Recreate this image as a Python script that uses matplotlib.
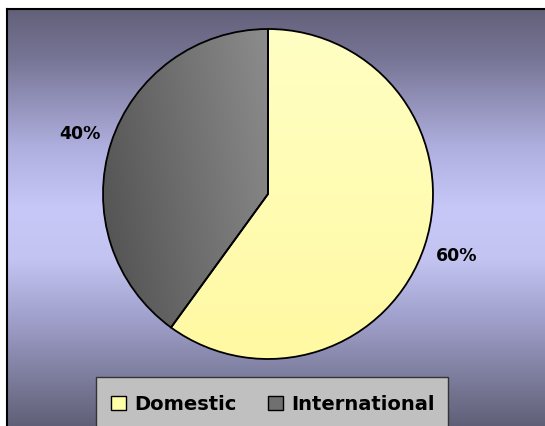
import matplotlib.pyplot as plt
import numpy as np
from matplotlib.colors import LinearSegmentedColormap
from matplotlib.patches import Rectangle

labels = ["Domestic", "International"]
shares = [60, 40]

W, H = 545, 427
fig = plt.figure(figsize=(W / 100, H / 100), dpi=100)
fig.patch.set_facecolor("white")

# background panel with vertical gradient (dark - lavender - dark)
bg = fig.add_axes([7 / W, -0.05, 1.0, 1 - 10 / H + 0.05])
bg_cmap = LinearSegmentedColormap.from_list(
    "bg",
    [(0.0, "#626079"), (0.114, "#777595"), (0.32, "#b0b0e0"), (0.457, "#c8c8f8"),
     (0.571, "#c4c4f2"), (0.708, "#a0a0cc"), (0.845, "#7c7c9c"), (0.952, "#606078"),
     (1.0, "#5c5c74")],
)
grad = np.linspace(0, 1, 256).reshape(-1, 1)
bg.imshow(grad, aspect="auto", cmap=bg_cmap, extent=[0, 1, 0, 1], origin="upper")
bg.set_xticks([])
bg.set_yticks([])
for s in bg.spines.values():
    s.set_linewidth(1.5)
    s.set_color("black")

# pie axes
cx, cy, r = 268, 195, 165
ax = fig.add_axes([(cx - r) / W, (H - cy - r) / H, 2 * r / W, 2 * r / H])
ax.axis("off")

wedges, texts, autotexts = ax.pie(
    shares, startangle=90, counterclock=False, radius=1,
    colors=["#ffffc0", "#707070"], autopct="%1.0f%%", pctdistance=1.2,
    wedgeprops=dict(edgecolor="black", linewidth=1.3),
    textprops=dict(fontsize=12.5, fontweight="bold", color="black"),
)
ax.set_aspect("auto")

# gradient fills clipped to wedges
yy, xx = np.mgrid[0:1:200j, 0:1:200j]
dom_cmap = LinearSegmentedColormap.from_list("dom", ["#ffffc4", "#fff9a2"])
dom_img = ax.imshow(yy, cmap=dom_cmap, extent=[-1, 1, -1, 1], origin="upper",
                    aspect="auto", zorder=1)
dom_img.set_clip_path(wedges[0])
int_cmap = LinearSegmentedColormap.from_list("int", ["#4e4e4e", "#8c8c8c"])
int_img = ax.imshow(xx + 0.35 * yy, cmap=int_cmap, extent=[-1, 0, -1, 1],
                    origin="lower", aspect="auto", zorder=1)
int_img.set_clip_path(wedges[1])
for w in wedges:
    w.set_zorder(2)
    w.set_facecolor("none")
ax.set_xlim(-1, 1)
ax.set_ylim(-1, 1)

# legend box (runs off the bottom edge)
fig.patches.append(Rectangle((96 / W, -0.05), (448 - 96) / W, (H - 378) / H + 0.05,
                             transform=fig.transFigure, facecolor="#c0c0c0",
                             edgecolor="#333333", linewidth=1.0))
handles = [Rectangle((0, 0), 1, 1, facecolor="#ffffa8", edgecolor="black"),
           Rectangle((0, 0), 1, 1, facecolor="#707070", edgecolor="black")]
fig.legend(handles, labels, loc="center", bbox_to_anchor=(273 / W, 1 - 405 / H),
           ncol=2, frameon=False, handlelength=0.75, handleheight=0.75,
           handletextpad=0.45, columnspacing=1.6,
           prop=dict(size=14, weight="bold"))

fig.savefig("out.png", dpi=100)
